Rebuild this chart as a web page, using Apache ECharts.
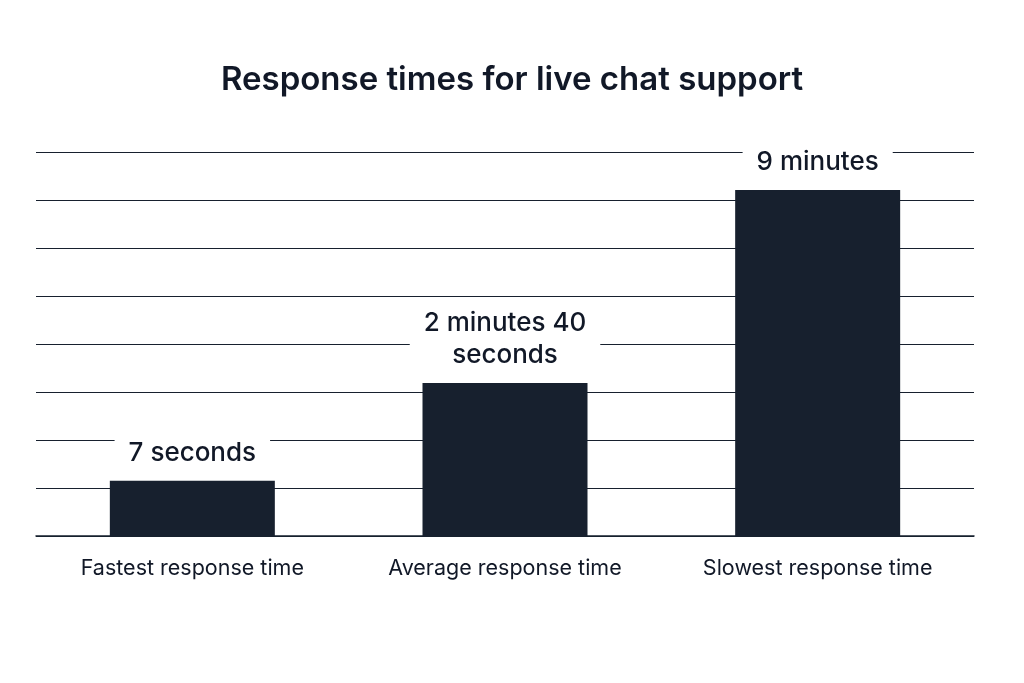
<!DOCTYPE html>
<html><head><meta charset="utf-8">
<script src="https://cdn.jsdelivr.net/npm/echarts@6/dist/echarts.min.js"></script>
<style>html,body{margin:0;background:#fff}#c{width:1024px;height:683px}</style>
</head><body><div id="c"></div>
<script>
const categories = ["Fastest response time", "Average response time", "Slowest response time"];
const values = [1.15, 3.19, 7.21];
const valueLabels = ["7 seconds", "2 minutes 40\nseconds", "9 minutes"];
const chart = echarts.init(document.getElementById('c'));
chart.setOption({
  backgroundColor: '#fff',
  title: { text: 'Response times for live chat support', left: 'center', top: 59,
    textStyle: { fontFamily: 'Inter', fontSize: 33, fontWeight: 600, color: '#111827' } },
  grid: { left: 36, right: 50, top: 152, bottom: 147 },
  xAxis: { type: 'category', data: categories,
    axisLine: { show: true, lineStyle: { color: '#17202e', width: 1.5 } },
    axisTick: { show: false },
    axisLabel: { fontFamily: 'Inter', fontSize: 21.5, color: '#111827', margin: 22 } },
  yAxis: { type: 'value', min: 0, max: 8, interval: 1,
    axisLabel: { show: false }, axisLine: { show: false }, axisTick: { show: false },
    splitLine: { lineStyle: { color: '#17202e', width: 1.2 } } },
  series: [{ type: 'bar', barWidth: 165, z: 3,
    data: values.map((v, i) => ({ value: v, label: { formatter: valueLabels[i] } })),
    itemStyle: { color: '#17202e' },
    label: { show: true, position: 'top', distance: 12, fontFamily: 'Inter', fontSize: 26,
      fontWeight: 500, color: '#111827', lineHeight: 32, backgroundColor: '#fff', padding: [0, 14] } }]
});
</script></body></html>
